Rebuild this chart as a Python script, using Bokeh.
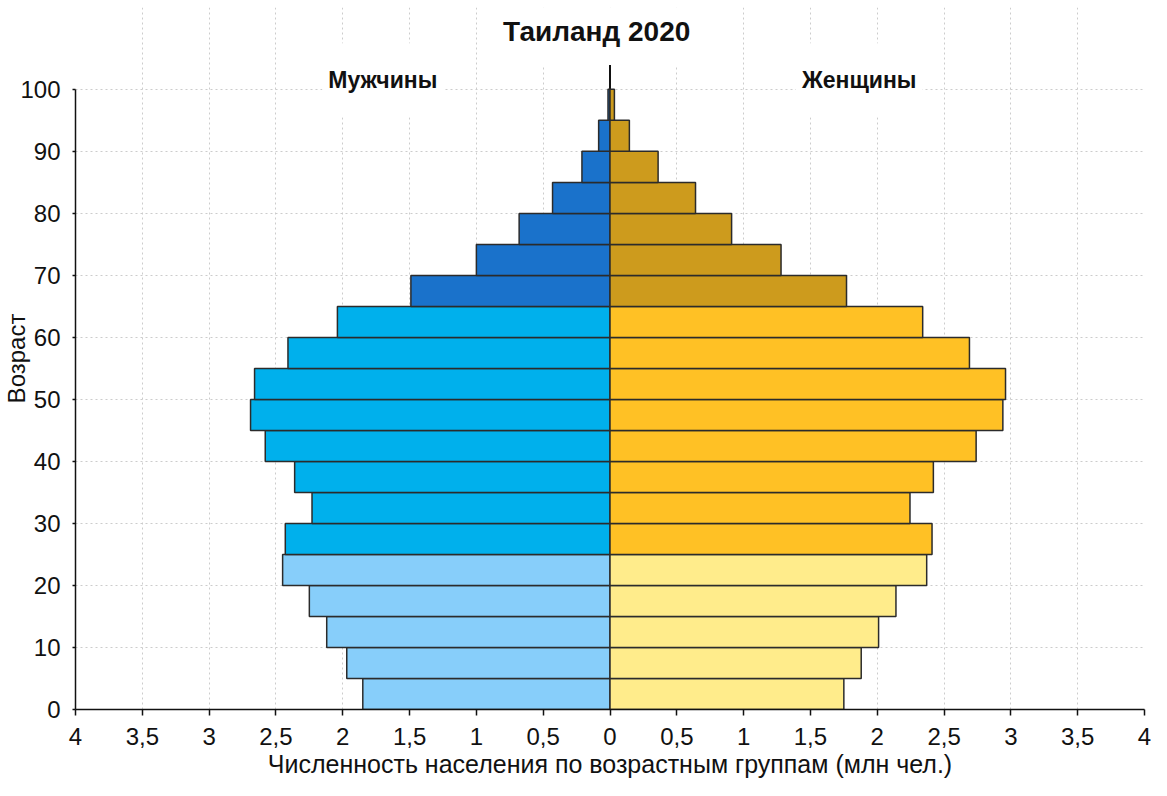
import math
from bokeh.plotting import figure
from bokeh.models import FixedTicker, Range1d, Label, ColumnDataSource
from bokeh.core.properties import value
from bokeh.embed import file_html
from bokeh.resources import INLINE

# ---- data ----
age_start = [0, 5, 10, 15, 20, 25, 30, 35, 40, 45, 50, 55, 60, 65, 70, 75, 80, 85, 90, 95]
male = [1.85, 1.97, 2.12, 2.25, 2.45, 2.43, 2.23, 2.36, 2.58, 2.69,
        2.66, 2.41, 2.04, 1.49, 1.00, 0.68, 0.43, 0.21, 0.085, 0.015]
female = [1.75, 1.88, 2.01, 2.14, 2.37, 2.41, 2.245, 2.42, 2.74, 2.94,
          2.96, 2.69, 2.34, 1.77, 1.28, 0.91, 0.64, 0.36, 0.145, 0.033]
x_ticks = [-4, -3.5, -3, -2.5, -2, -1.5, -1, -0.5, 0, 0.5, 1, 1.5, 2, 2.5, 3, 3.5, 4]
x_tick_labels = ["4", "3,5", "3", "2,5", "2", "1,5", "1", "0,5", "0",
                 "0,5", "1", "1,5", "2", "2,5", "3", "3,5", "4"]
y_ticks = [0, 10, 20, 30, 40, 50, 60, 70, 80, 90, 100]
title_text = "Таиланд 2020"
male_label = "Мужчины"
female_label = "Женщины"
x_title = "Численность населения по возрастным группам (млн чел.)"
y_title = "Возраст"

# ---- styles ----
FONT = "Liberation Sans"
male_palette = {"young": "#87CEFA", "work": "#00B0EC", "old": "#1A72CB"}
female_palette = {"young": "#FFEC8B", "work": "#FFC125", "old": "#CD9B1D"}


def group(a):
    if a < 25:
        return "young"
    if a < 65:
        return "work"
    return "old"


p = figure(width=1151, height=780,
           x_range=Range1d(-4, 4), y_range=Range1d(0, 113.2),
           output_backend="svg", toolbar_location=None,
           min_border_left=74, min_border_right=7,
           min_border_top=7, min_border_bottom=71)
p.outline_line_color = None
p.background_fill_color = "white"
p.border_fill_color = "white"

# grid
p.xgrid.ticker = FixedTicker(ticks=x_ticks)
p.ygrid.ticker = FixedTicker(ticks=y_ticks)
for g in (p.xgrid, p.ygrid):
    g.grid_line_color = "#cccccc"
    g.grid_line_dash = "2 3"
    g.grid_line_width = 1
p.xgrid.bounds = (0, 110.3)

# axes
xa = p.xaxis[0]
xa.ticker = FixedTicker(ticks=x_ticks)
xa.major_label_overrides = {t: l for t, l in zip(x_ticks, x_tick_labels)}
xa.bounds = (-4, 4)
ya = p.yaxis[0]
ya.ticker = FixedTicker(ticks=y_ticks)
ya.bounds = (0, 100)
for ax in (xa, ya):
    ax.axis_line_color = "#111111"
    ax.axis_line_width = 1.5
    ax.major_tick_line_color = "#111111"
    ax.major_tick_line_width = 1.5
    ax.minor_tick_line_color = None
    ax.major_tick_in = 0
    ax.major_label_text_font = FONT
    ax.major_label_text_font_size = "24px"
    ax.major_label_text_color = "#111111"
    ax.axis_label_text_font = FONT
    ax.axis_label_text_font_style = "normal"
    ax.axis_label_text_color = "#111111"
xa.axis_label_text_font_size = "25px"
ya.axis_label_text_font_size = "24px"
xa.major_tick_out = 6
ya.major_tick_out = 3
xa.major_label_standoff = 12
ya.major_label_standoff = 12
xa.axis_label = x_title
ya.axis_label = y_title
xa.axis_label_standoff = 2
ya.axis_label_standoff = -13

# zero line
p.segment(x0=[0], y0=[0], x1=[0], y1=[105.2], line_color="#111111", line_width=2)

# bars
n = len(age_start)
male_src = ColumnDataSource(dict(
    left=[-v for v in male], right=[0] * n,
    bottom=age_start, top=[a + 5 for a in age_start],
    color=[male_palette[group(a)] for a in age_start]))
female_src = ColumnDataSource(dict(
    left=[0] * n, right=female,
    bottom=age_start, top=[a + 5 for a in age_start],
    color=[female_palette[group(a)] for a in age_start]))
for src in (male_src, female_src):
    p.quad(left="left", right="right", bottom="bottom", top="top", source=src,
           fill_color="color", line_color="#2b2b2b", line_width=1.5)

# texts
p.add_layout(Label(x=-0.1, y=109.35, text=title_text, text_font=FONT,
                   text_font_style="bold", text_font_size="28px",
                   text_color="#111111", text_align="center",
                   text_baseline="alphabetic",
                   background_fill_color="white", padding=(6, 18)))
p.add_layout(Label(x=-1.70, y=101.45, text=male_label, text_font=FONT,
                   text_font_style="bold", text_font_size="23px",
                   text_color="#111111", text_align="center",
                   text_baseline="alphabetic",
                   background_fill_color="white", padding=(6, 24)))
p.add_layout(Label(x=1.865, y=101.45, text=female_label, text_font=FONT,
                   text_font_style="bold", text_font_size="23px",
                   text_color="#111111", text_align="center",
                   text_baseline="alphabetic",
                   background_fill_color="white", padding=(6, 24)))

open("out.html", "w").write(file_html(p, INLINE))
